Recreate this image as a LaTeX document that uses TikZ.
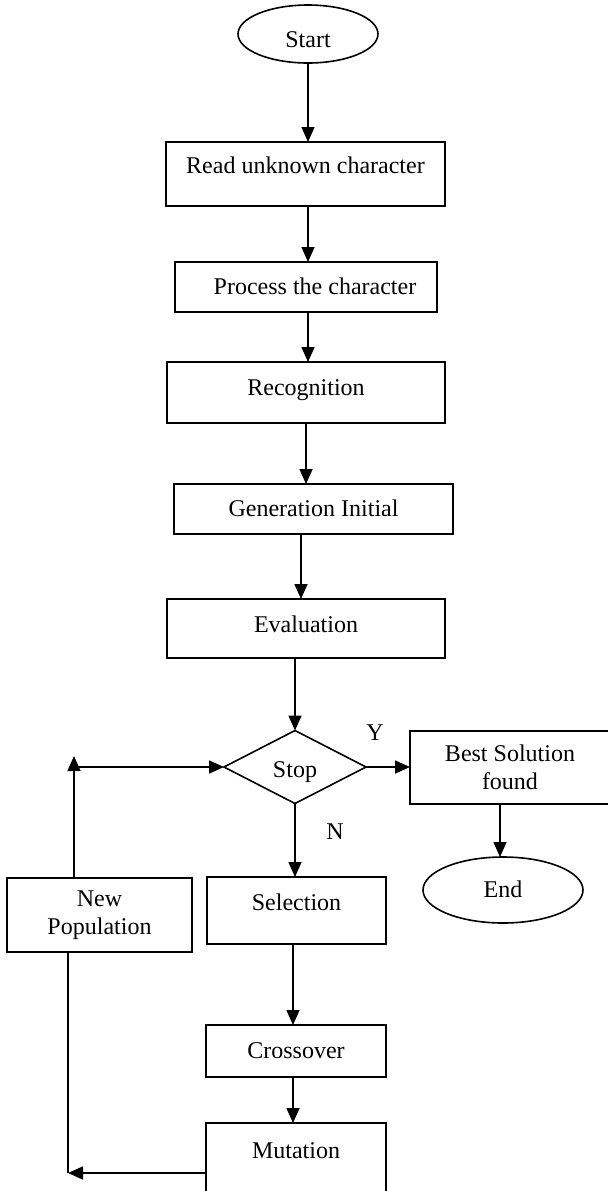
\documentclass[tikz,border=0pt]{standalone}
\usepackage{fontspec}
\setmainfont{Liberation Serif}
\usetikzlibrary{arrows.meta,shapes.geometric}
\begin{document}
\begin{tikzpicture}[x=0.5pt,y=-0.5pt,
  every node/.style={font=\fontsize{12}{14}\selectfont, inner sep=0pt, outer sep=0pt},
  ln/.style={line width=0.8pt},
  box/.style={draw, ln, rectangle},
  oval/.style={draw, ln, ellipse},
  arr/.style={ln, -{Triangle[length=7.5pt,width=6.5pt]}},
  tv/.style 2 args={text height=#1, text depth=#2}]
\useasboundingbox (0,0) rectangle (608,1191);
\fill[white] (0,0) rectangle (608,1191);
\clip (0,0) rectangle (608,1191);

% nodes
\node[oval, minimum width=70pt, minimum height=29pt, tv={14pt}{0.1pt}] (start) at (308,34) {Start};
\node[box, minimum width=139.5pt, minimum height=32pt, tv={8pt}{8.1pt}] (read) at (305.5,174) {Read unknown character};
\node[box, minimum width=131pt, minimum height=25pt, tv={8pt}{0.1pt}] (proc) at (306,287) {\hspace*{9pt}Process the character};
\node[box, minimum width=139pt, minimum height=30.5pt, tv={8pt}{5.1pt}] (rec) at (306,392.5) {Recognition};
\node[box, minimum width=139.5pt, minimum height=25pt, tv={8pt}{0.1pt}] (gen) at (313.5,509) {Generation Initial};
\node[box, minimum width=139pt, minimum height=29.5pt, tv={8pt}{4.1pt}] (eval) at (306,628.5) {Evaluation};
\node[draw, ln, diamond, minimum width=71pt, minimum height=36.5pt, tv={11pt}{0.1pt}] (stop) at (295,767) {Stop};
\node[box, minimum width=100pt, minimum height=36.5pt, align=center] (best) at (510,767.5) {Best Solution\\found};
\node[oval, minimum width=80pt, minimum height=33pt, tv={8pt}{0.1pt}] (end) at (503,890) {End};
\node[box, minimum width=92.5pt, minimum height=37pt, align=center] (np) at (99.5,915) {New\\Population};
\node[box, minimum width=89.5pt, minimum height=33.5pt, tv={8pt}{8.1pt}] (sel) at (296.5,910.5) {Selection};
\node[box, minimum width=90pt, minimum height=26pt, tv={8pt}{0.1pt}] (cross) at (296,1051) {Crossover};
\node[box, minimum width=90pt, minimum height=35.5pt, tv={8pt}{8.1pt}] (mut) at (296,1158.5) {Mutation};

\node (ylab) at (375,733) {Y};
\node (nlab) at (335,832) {N};

% loop coordinates
\coordinate (lu) at (74,756);
\coordinate (lc) at (74,767);
\coordinate (ld) at (68,1173);

% connectors
\draw[arr] (start.south) -- (start.south |- read.north);
\draw[arr] (read.south -| start.south) -- (proc.north -| start.south);
\draw[arr] (proc.south -| start.south) -- (rec.north -| start.south);
\draw[arr] (rec.south) -- (rec.south |- gen.north);
\draw[arr] ([xshift=-6.25pt]gen.south) -- ([xshift=-6.25pt]gen.south |- eval.north);
\draw[arr] (stop.north |- eval.south) -- (stop.north);
\draw[arr] (stop.east) -- (stop.east -| best.west);
\draw[arr] ([xshift=-5pt]best.south) -- ([xshift=-5pt]best.south |- end.north);
\draw[arr] (stop.south) -- (stop.south |- sel.north);
\draw[arr] ([xshift=-1.75pt]sel.south) -- ([xshift=-1.75pt]sel.south |- cross.north);
\draw[arr] ([xshift=-1.5pt]cross.south) -- ([xshift=-1.5pt]cross.south |- mut.north);
\draw[arr] (np.north -| lu) -- (lu);
\draw[arr] (lc) -- (stop.west);
\draw[ln] (np.south -| ld) -- (ld);
\draw[arr] (mut.west |- ld) -- (ld);
\end{tikzpicture}
\end{document}
